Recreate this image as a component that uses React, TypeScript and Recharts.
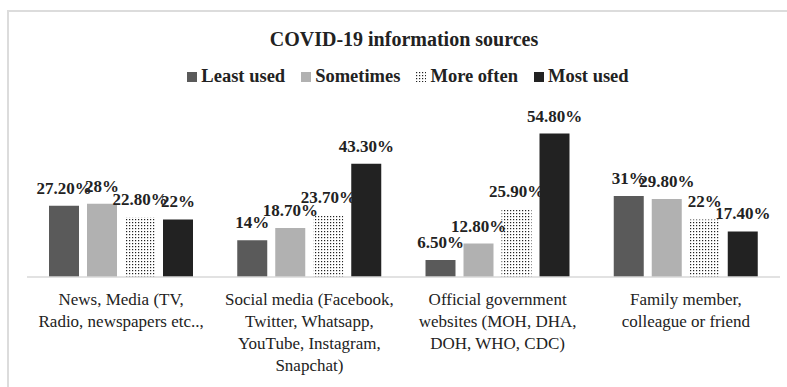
import React from 'react';
import { BarChart, Bar, XAxis, YAxis, LabelList } from 'recharts';

const categories = [
  'News, Media (TV,\nRadio, newspapers etc..,',
  'Social media (Facebook,\nTwitter, Whatsapp,\nYouTube, Instagram,\nSnapchat)',
  'Official government\nwebsites (MOH, DHA,\nDOH, WHO, CDC)',
  'Family member,\ncolleague or friend',
];

const leastUsed = [27.2, 14, 6.5, 31];
const sometimes = [28, 18.7, 12.8, 29.8];
const moreOften = [22.8, 23.7, 25.9, 22];
const mostUsed = [22, 43.3, 54.8, 17.4];

const seriesNames = ['Least used', 'Sometimes', 'More often', 'Most used'];

const FONT = '"Liberation Serif", "Times New Roman", serif';

const data = categories.map((name, i) => ({
  name,
  least: leastUsed[i],
  some: sometimes[i],
  more: moreOften[i],
  most: mostUsed[i],
}));

const series = [
  { key: 'least', name: seriesNames[0], fill: '#5a5a5a' },
  { key: 'some', name: seriesNames[1], fill: '#b1b1b1' },
  { key: 'more', name: seriesNames[2], fill: 'url(#dots)' },
  { key: 'most', name: seriesNames[3], fill: '#222222' },
];

const fmt = (v: any) => {
  const n = Number(v);
  return Number.isInteger(n) ? `${n}%` : `${n.toFixed(2)}%`;
};

const CategoryTick = ({ x, y, payload }: any) => {
  const lines = String(payload.value).split('\n');
  return (
    <text x={x} y={y} textAnchor="middle" fill="#222" fontFamily={FONT} fontSize={17}>
      {lines.map((line, i) => (
        <tspan key={i} x={x} dy={i === 0 ? 20 : 22}>
          {line}
        </tspan>
      ))}
    </text>
  );
};

// legend drawn in html, so it does not push the plot area down
const LegendRow = () => (
  <div
    style={{
      position: 'absolute',
      left: 0,
      top: 66,
      width: 816,
      display: 'flex',
      justifyContent: 'center',
      gap: 16,
      fontWeight: 'bold',
      fontSize: 18.5,
      color: '#222',
    }}
  >
    {series.map((s) => (
      <div key={s.key} style={{ display: 'flex', alignItems: 'center', gap: 4 }}>
        <svg width={10} height={10}>
          <defs>
            <pattern id={`ldots-${s.key}`} width={3} height={3} patternUnits="userSpaceOnUse">
              <rect width={3} height={3} fill="#fff" />
              <rect width={1.2} height={1.2} fill="#222" />
            </pattern>
          </defs>
          <rect width={10} height={10} fill={s.key === 'more' ? `url(#ldots-${s.key})` : s.fill} />
        </svg>
        <span>{s.name}</span>
      </div>
    ))}
  </div>
);

export default function App() {
  return (
    <div
      style={{
        position: 'absolute',
        left: 0,
        top: 0,
        width: 787,
        height: 387,
        background: '#fff',
        fontFamily: FONT,
        overflow: 'hidden',
      }}
    >
      <div
        style={{
          position: 'absolute',
          left: 7,
          top: 10,
          right: 0,
          bottom: 0,
          borderTop: '2px solid #dcdcdc',
          borderLeft: '2px solid #dcdcdc',
        }}
      />
      <div
        style={{
          position: 'absolute',
          left: 0,
          top: 28,
          width: 808,
          textAlign: 'center',
          fontWeight: 'bold',
          fontSize: 20,
          color: '#222',
        }}
      >
        COVID-19 information sources
      </div>
      <LegendRow />
      <BarChart
        width={787}
        height={387}
        data={data}
        margin={{ top: 120, right: 7, left: 27, bottom: 0 }}
        barCategoryGap={22}
        barGap={8}
        style={{ position: 'absolute', left: 0, top: 0, fontFamily: FONT }}
      >
        <defs>
          <pattern id="dots" width={3} height={3} patternUnits="userSpaceOnUse">
            <rect width={3} height={3} fill="#fff" />
            <rect width={1.2} height={1.2} fill="#222" />
          </pattern>
        </defs>
        <XAxis
          dataKey="name"
          interval={0}
          height={110}
          tickLine={false}
          axisLine={{ stroke: '#d9d9d9', strokeWidth: 1.5 }}
          tick={<CategoryTick />}
        />
        <YAxis hide domain={[0, 60]} />
        {series.map((s) => (
          <Bar key={s.key} dataKey={s.key} name={s.name} fill={s.fill} isAnimationActive={false}>
            <LabelList
              dataKey={s.key}
              position="top"
              offset={12}
              formatter={fmt}
              fill="#222"
              fontFamily={FONT}
              style={{ fontFamily: FONT }}
              fontWeight="bold"
              fontSize={17}
            />
          </Bar>
        ))}
      </BarChart>
    </div>
  );
}
